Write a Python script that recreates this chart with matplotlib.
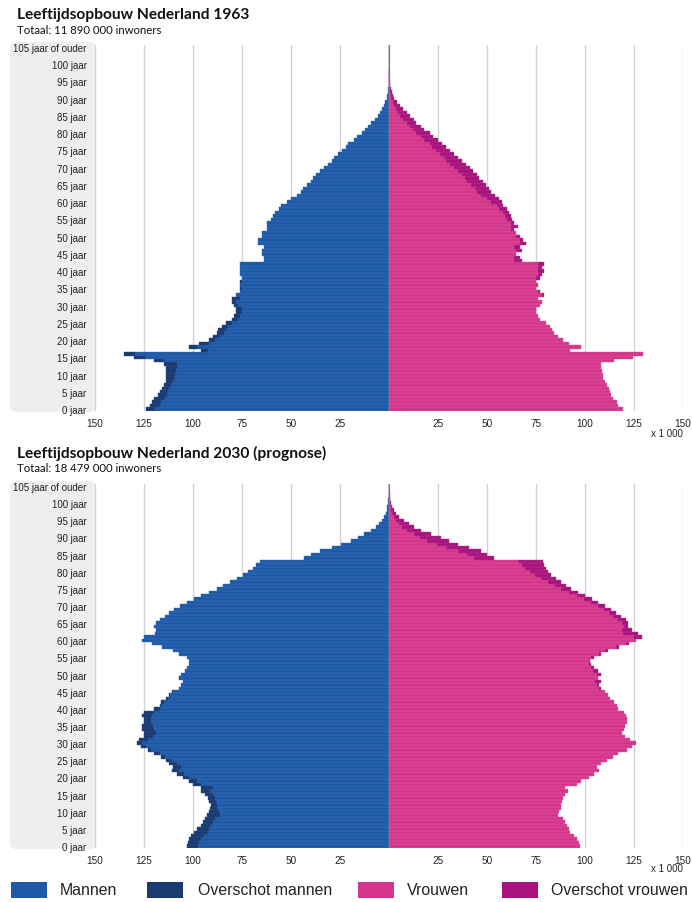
import matplotlib
matplotlib.use('Agg')
import matplotlib.pyplot as plt
import numpy as np
from matplotlib.patches import FancyBboxPatch, Rectangle
from matplotlib.transforms import IdentityTransform
from matplotlib import font_manager as fm

avail = {f.name for f in fm.fontManager.ttflist}
NARROW = [f for f in ['Liberation Sans Narrow', 'Liberation Sans'] if f in avail] + ['DejaVu Sans']
TITLEF = [f for f in ['Lato', 'Noto Sans'] if f in avail] + ['DejaVu Sans']

# ---------------- data (x 1 000 inwoners) ----------------
ages = list(range(106))

men_1963 = [124, 122, 121, 120, 118, 117, 116, 115, 114, 114,
            114, 114, 114, 115, 120, 130, 135, 96, 102, 97,
            92, 90, 88, 87, 85, 83, 80, 79, 78, 78,
            79, 80, 80, 78, 76, 76, 76, 76, 75, 76,
            76, 76, 76, 64, 64, 65, 65, 64, 67, 67,
            65, 65, 62, 62, 62, 60, 59, 58, 56, 55,
            52, 50, 47, 45, 44, 42, 40, 39, 37, 35,
            33, 31, 29, 28, 26, 24, 22, 21, 18, 16.5,
            14, 12, 10.5, 9, 7, 5.5, 4.6, 3.5, 2.6, 1.8,
            1.2, 0.8, 0.5, 0.3, 0.2, 0.1, 0.05, 0.05, 0.05, 0.05,
            0.05, 0.05, 0.05, 0.05, 0.05, 0.05]

women_1963 = [119.5, 117, 116.5, 114.5, 113.5, 112.5, 112, 111, 110, 109,
              109, 108.5, 108, 108, 115, 124.5, 129.5, 92.5, 98, 92,
              89, 86, 84, 83, 82, 80, 77, 76, 75, 75,
              77, 78, 76, 79, 77, 75, 76, 75, 77, 78,
              79, 78, 79, 68, 67, 65, 68, 67, 70, 68.5,
              67, 65, 64, 66, 64, 63, 62, 61, 60, 58,
              57.5, 56, 54, 52, 51, 49.5, 48, 46, 45, 43,
              41.5, 39.5, 37, 35, 33, 31, 29, 27, 25, 22.5,
              21, 18, 16.5, 14, 12.5, 10.5, 9, 7.3, 5.6, 4,
              2.8, 2, 1.4, 0.9, 0.6, 0.4, 0.25, 0.15, 0.1, 0.05,
              0.05, 0.05, 0.05, 0.05, 0.05, 0.05]

men_2030 = [103, 102.5, 102, 101, 99.5, 98, 96, 95, 94, 93,
            92, 91.5, 91, 92, 92.5, 94, 96, 96, 100, 102,
            105, 108, 110.5, 110, 112, 114, 116.5, 120, 123, 126.5,
            128.5, 127.5, 125, 125, 126, 126, 125, 125, 126, 125,
            120, 117, 116.5, 114, 112, 110.5, 107, 106, 105, 107,
            106, 104, 103, 102, 102, 103, 107, 110, 116, 121,
            126, 125, 119.5, 119, 120, 119, 117, 114.5, 112, 109.5,
            106.5, 103, 99.5, 96, 92, 88, 84.5, 81, 77.5, 74.5,
            72, 69.5, 68, 66, 43.5, 40, 35, 29, 24.5, 19.5,
            16, 12.8, 9.4, 6.8, 5, 3.4, 2.5, 1.7, 1.2, 0.8,
            0.5, 0.3, 0.2, 0.1, 0.1, 0.1]

women_2030 = [97.5, 97, 96, 94.5, 92.5, 92, 91, 90, 89, 86,
              86.5, 87.5, 88, 88.5, 89, 90, 91.5, 90, 96, 98,
              102, 104.5, 107, 106, 108, 111, 114.5, 117, 121.5, 124,
              126, 123, 120.5, 119, 120, 120.5, 121.5, 121.5, 121, 120,
              117, 116.5, 115, 113, 111.5, 110, 108, 107, 108, 106.5,
              108, 106.5, 104.5, 103, 102.5, 104.5, 108, 111.5, 117.5, 122.5,
              126, 129, 127, 124, 122, 122, 121, 118.5, 116, 113.5,
              110, 106.5, 103.5, 100, 96.5, 93, 90.5, 88, 85, 82.5,
              81, 80, 79, 78.5, 53.5, 50, 47, 41, 35, 30.5,
              26.5, 21.5, 16.5, 13, 10.2, 7.7, 5.2, 3.5, 2.3, 1.5,
              1, 0.6, 0.35, 0.2, 0.1, 0.1]

age_ticks = [0, 5, 10, 15, 20, 25, 30, 35, 40, 45, 50, 55, 60, 65, 70, 75, 80, 85, 90, 95, 100, 105]
age_labels = ['0 jaar', '5 jaar', '10 jaar', '15 jaar', '20 jaar', '25 jaar', '30 jaar', '35 jaar',
              '40 jaar', '45 jaar', '50 jaar', '55 jaar', '60 jaar', '65 jaar', '70 jaar', '75 jaar',
              '80 jaar', '85 jaar', '90 jaar', '95 jaar', '100 jaar', '105 jaar of ouder']
x_ticks = [-150, -125, -100, -75, -50, -25, 25, 50, 75, 100, 125, 150]
x_labels = ['150', '125', '100', '75', '50', '25', '25', '50', '75', '100', '125', '150']

titles = ['Leeftijdsopbouw Nederland 1963', 'Leeftijdsopbouw Nederland 2030 (prognose)']
subtitles = ['Totaal: 11 890 000 inwoners', 'Totaal: 18 479 000 inwoners']
legend_labels = ['Mannen', 'Overschot mannen', 'Vrouwen', 'Overschot vrouwen']

# ---------------- style ----------------
BLUE = '#1e5aa8'
NAVY = '#1b3a70'
PINK = '#d5368b'
MAGENTA = '#a8137e'
BLUE_E = '#3c72b8'
NAVY_E = '#2d4c82'
PINK_E = '#de5a9e'
MAG_E = '#b53690'
TXT = '#222222'

W, H = 692, 903
fig = plt.figure(figsize=(W / 100, H / 100), dpi=100)


def add_ax(left, top, right, bottom):
    ax = fig.add_axes([left / W, 1 - bottom / H, (right - left) / W, (bottom - top) / H])
    ax.set_zorder(2)
    return ax


def panel(top, bottom):
    p = FancyBboxPatch((10, H - bottom), 86, bottom - top,
                       boxstyle='round,pad=0,rounding_size=6',
                       transform=IdentityTransform(), facecolor='#eeeeee',
                       edgecolor='none', zorder=-5)
    fig.patches.append(p)


def draw(ax, men, women):
    a = np.array(ages)
    m = np.array(men, dtype=float)
    w = np.array(women, dtype=float)
    c = np.minimum(m, w)
    ax.barh(a, -c, height=1.0, color=BLUE, edgecolor=BLUE_E, linewidth=0.3, zorder=2)
    sel = m > w
    ax.barh(a[sel], -(m - c)[sel], left=-c[sel], height=1.0, color=NAVY,
            edgecolor=NAVY_E, linewidth=0.3, zorder=2)
    ax.barh(a, c, height=1.0, color=PINK, edgecolor=PINK_E, linewidth=0.3, zorder=2)
    sel = w > m
    ax.barh(a[sel], (w - c)[sel], left=c[sel], height=1.0, color=MAGENTA,
            edgecolor=MAG_E, linewidth=0.3, zorder=2)
    for v in x_ticks:
        ax.axvline(v, color='#d2d2d2', lw=1.0, zorder=0)
    ax.axvline(0, color='#7a7a7a', lw=0.9, zorder=3)
    ax.set_xlim(-150, 150)
    ax.set_ylim(-0.5, 105.5)
    ax.set_facecolor('none')
    for s in ax.spines.values():
        s.set_visible(False)
    ax.set_yticks(age_ticks)
    ax.set_yticklabels(age_labels, family=NARROW, fontsize=7.0, color=TXT)
    ax.set_xticks(x_ticks)
    ax.set_xticklabels(x_labels, family=NARROW, fontsize=7.2, color=TXT)
    ax.tick_params(axis='both', length=0)
    ax.tick_params(axis='y', pad=6)
    ax.tick_params(axis='x', pad=5)


# top chart
panel(43, 413)
ax1 = add_ax(95, 46.3, 683, 411.7)
draw(ax1, men_1963, women_1963)
fig.text(17 / W, 1 - 15 / H, titles[0], family=TITLEF, fontweight='bold', fontsize=11.2,
         color='#111111', va='center', ha='left')
fig.text(17 / W, 1 - 31 / H, subtitles[0], family=TITLEF, fontsize=8.2,
         color='#111111', va='center', ha='left')
fig.text(683 / W, 1 - 434 / H, 'x 1 000', family=NARROW, fontsize=7, color=TXT,
         va='center', ha='right')

# bottom chart
panel(482, 850)
ax2 = add_ax(95, 485.3, 683, 848.7)
draw(ax2, men_2030, women_2030)
fig.text(17 / W, 1 - 453 / H, titles[1], family=TITLEF, fontweight='bold', fontsize=11.2,
         color='#111111', va='center', ha='left')
fig.text(17 / W, 1 - 469 / H, subtitles[1], family=TITLEF, fontsize=8.2,
         color='#111111', va='center', ha='left')
fig.text(683 / W, 1 - 869 / H, 'x 1 000', family=NARROW, fontsize=7, color=TXT,
         va='center', ha='right')

# legend
leg_cols = [BLUE, NAVY, PINK, MAGENTA]
patch_x = [11, 147, 358, 502]
text_x = [60, 198, 407, 551]
for col, px, tx, lab in zip(leg_cols, patch_x, text_x, legend_labels):
    fig.add_artist(Rectangle((px / W, 1 - 899 / H), 36 / W, 16 / H,
                             transform=fig.transFigure, facecolor=col, edgecolor='none'))
    fig.text(tx / W, 1 - 891 / H, lab, family=NARROW, fontsize=11.4, color=TXT,
             va='center', ha='left')

fig.savefig('out.png', dpi=100)
